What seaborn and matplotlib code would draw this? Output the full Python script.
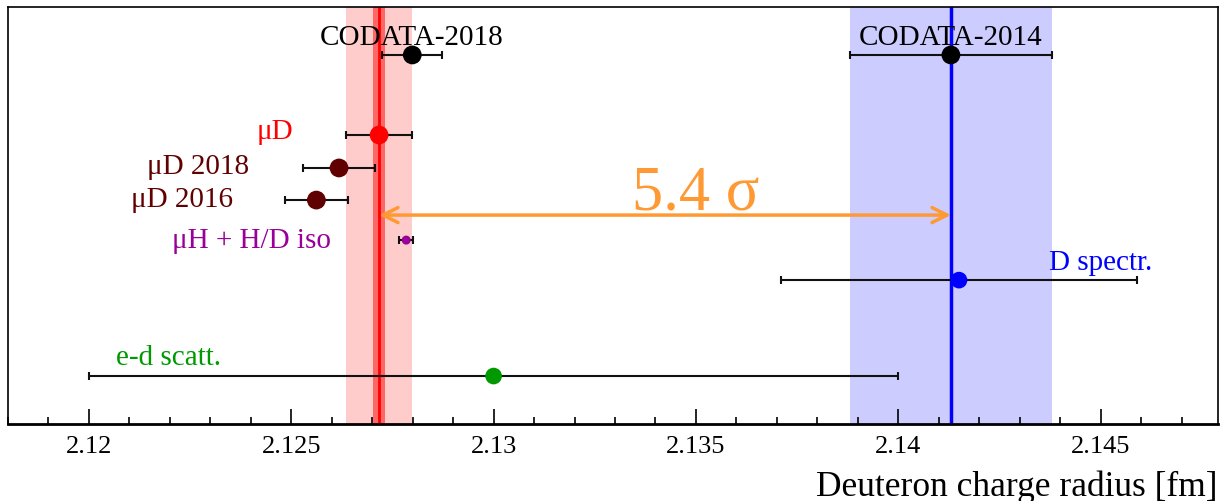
import numpy as np
import pandas as pd
import matplotlib
matplotlib.use("Agg")
import matplotlib.pyplot as plt
import seaborn as sns

# Deuteron charge radius determinations [fm]
labels = ["CODATA-2018", "CODATA-2014", "μD", "μD 2018", "μD 2016",
          "μH + H/D iso", "D spectr.", "e-d scatt."]
radius = [2.12799, 2.1413, 2.12717, 2.12618, 2.12562, 2.12784, 2.1415, 2.1300]
uncert = [0.00074, 0.0025, 0.00082, 0.00090, 0.00078, 0.00017, 0.0044, 0.0100]
colors = ["#000000", "#000000", "#ff0000", "#600000", "#600000",
          "#990099", "#0000ff", "#009900"]
row_y = [0.885, 0.885, 0.693, 0.614, 0.537, 0.441, 0.345, 0.115]
marker_pt = [13.5, 13.5, 13.5, 13.5, 13.5, 6.5, 12, 12]

# muonic deuterium band (total and theory-only) and CODATA-2014 band
mud_value, mud_total, mud_inner = 2.12717, 0.00082, 0.00015
codata14_value, codata14_unc = 2.1413, 0.0025
sigma_label = "5.4 σ"

xticks_major = [2.12, 2.125, 2.13, 2.135, 2.14, 2.145]

df = pd.DataFrame({"label": labels, "r": radius, "dr": uncert,
                   "y": row_y, "color": colors, "ms": marker_pt})

sns.set_theme(style="white")
plt.rcParams["font.family"] = ["Liberation Serif", "DejaVu Serif"]
plt.rcParams["text.color"] = "black"
plt.rcParams["xtick.color"] = "black"

fig = plt.figure(figsize=(12.23, 5.02), dpi=100)
ax = fig.add_axes([8 / 1223, 77 / 502, 1210 / 1223, 417 / 502])

# bands
ax.axvspan(mud_value - mud_total, mud_value + mud_total, color="#ffcccc", lw=0, zorder=0)
ax.axvspan(mud_value - mud_inner, mud_value + mud_inner, color="#ff6666", lw=0, zorder=0.5)
ax.axvline(mud_value, color="#ff0000", lw=2, zorder=1)
ax.axvspan(codata14_value - codata14_unc, codata14_value + codata14_unc,
           color="#ccccff", lw=0, zorder=0)
ax.axvline(codata14_value, color="#0000ff", lw=2.5, zorder=1)

# error bars
ax.errorbar(df["r"], df["y"], xerr=df["dr"], fmt="none", ecolor="#111111",
            elinewidth=1.5, capsize=2.6, capthick=1.5, zorder=2)

# central values
sns.scatterplot(data=df, x="r", y="y", hue="label",
                palette=dict(zip(df["label"], df["color"])),
                size="label", sizes=dict(zip(df["label"], (df["ms"] ** 2))),
                edgecolor="none", legend=False, ax=ax, zorder=3)

# tension arrow
ax.annotate("", xy=(codata14_value, 0.501), xytext=(mud_value, 0.501),
            arrowprops=dict(arrowstyle="<->,head_length=0.9,head_width=0.45",
                            color="#ff9933", lw=2.5, shrinkA=0, shrinkB=0),
            zorder=4)
ax.text(2.13499, 0.553, sigma_label, color="#ff9933", fontsize=45,
        ha="center", va="center")

# labels
fs = 21
ax.text(2.12798, 0.927, "CODATA-2018", color="black", fontsize=fs, ha="center", va="center")
ax.text(2.14130, 0.927, "CODATA-2014", color="black", fontsize=fs, ha="center", va="center")
ax.text(2.12504, 0.702, "μD", color="#ff0000", fontsize=fs, ha="right", va="center")
ax.text(2.12395, 0.619, "μD 2018", color="#600000", fontsize=fs, ha="right", va="center")
ax.text(2.12356, 0.540, "μD 2016", color="#600000", fontsize=fs, ha="right", va="center")
ax.text(2.12598, 0.442, "μH + H/D iso", color="#990099", fontsize=fs, ha="right", va="center")
ax.text(2.14627, 0.389, "D spectr.", color="#0000ff", fontsize=fs, ha="right", va="center")
ax.text(2.12067, 0.161, "e-d scatt.", color="#009900", fontsize=fs, ha="left", va="center")

ax.set_xlim(2.118, 2.1479)
ax.set_ylim(0, 1)
ax.set_yticks([])
ax.set_xticks(xticks_major)
ax.set_xticklabels([f"{t:g}" for t in xticks_major], fontsize=19, color="black")
ax.set_xticks(np.arange(2.118, 2.1479, 0.001), minor=True)
ax.tick_params(axis="x", which="major", direction="in", length=10.5, width=1.2,
               color="black", labelcolor="black", pad=8, bottom=True, top=False)
ax.tick_params(axis="x", which="minor", direction="in", length=5.2, width=1.2,
               color="black", bottom=True, top=False)
for side, s in ax.spines.items():
    s.set_color("black")
    s.set_linewidth(1.2)
ax.spines["bottom"].set_linewidth(2)
ax.set_xlabel("")
ax.set_ylabel("")
fig.text(1218 / 1223, 15 / 502, "Deuteron charge radius [fm]", fontsize=25.5,
         color="black", ha="right", va="center")

fig.savefig("out.png", dpi=100, facecolor="white")
